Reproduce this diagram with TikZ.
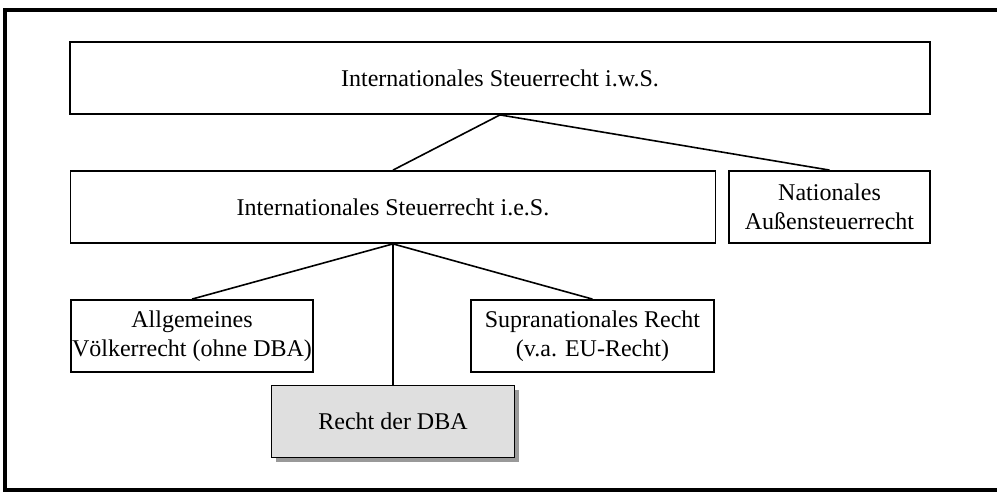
\documentclass[tikz,border=0pt]{standalone}
\usepackage{fontspec}
\setmainfont{Liberation Serif}
\usetikzlibrary{shadows}
\begin{document}
\begin{tikzpicture}[x=1pt,y=-1pt,
    box/.style={draw,line width=1.8pt,fill=white,inner sep=0pt,align=center,
      minimum height=72pt,font=\fontsize{24}{28.5}\selectfont},
    link/.style={line width=1.6pt}]
    \useasboundingbox (0,0) rectangle (997,492);
    \draw[line width=3.5pt] (1002,10)--(5,10)--(5,490)--(1002,490);

    \node[box,minimum width=860pt] (iws) at (500,78) {Internationales Steuerrecht i.w.S.};
    \node[box,minimum width=645pt] (ies) at (393,207) {Internationales Steuerrecht i.e.S.};
    \node[box,minimum width=201pt] (ast) at (829.5,207) {Nationales\\Außensteuerrecht};
    \node[box,minimum width=242pt] (vr) at (192,336) {Allgemeines\\Völkerrecht (ohne DBA)};
    \node[box,minimum width=243pt] (eu) at (592.5,336) {Supranationales Recht\\(v.a. EU-Recht)};
    \node[box,minimum width=243pt,fill=gray!25,
      drop shadow={shadow xshift=4pt,shadow yshift=-4pt,fill=gray!80,opacity=1}]
      (dba) at (393,421.5) {Recht der DBA};

    \draw[link] (iws.south)--(ies.north);
    \draw[link] (iws.south)--(ast.north);
    \draw[link] (ies.south)--(vr.north);
    \draw[link] (ies.south)--(eu.north);
    \draw[link] (ies.south)--(dba.north);
  \end{tikzpicture}
\end{document}
